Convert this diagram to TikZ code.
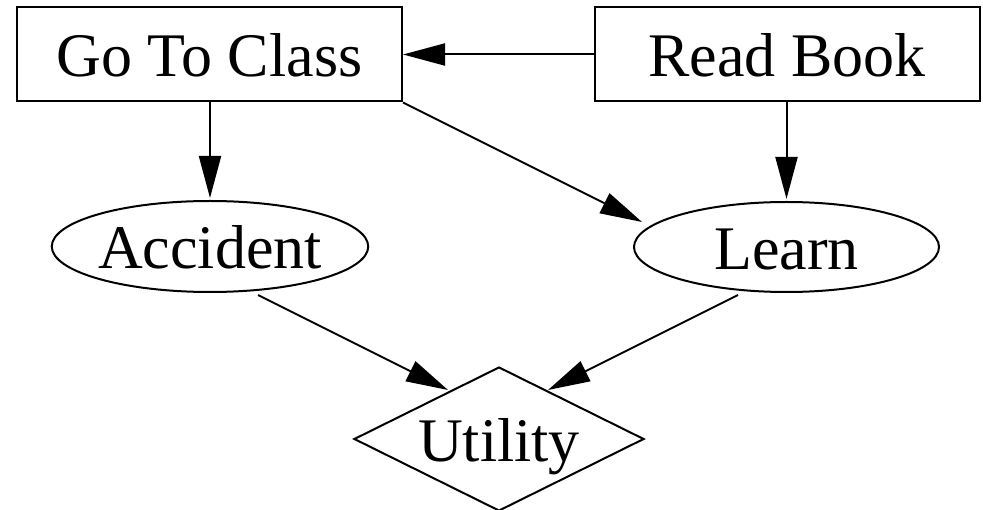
\documentclass[tikz,border=0pt]{standalone}
\usepackage{fontspec}
\setmainfont{Liberation Serif}
\usetikzlibrary{shapes.geometric,arrows.meta}
\tikzset{
  lbl/.style={font=\fontsize{62}{70}\selectfont, inner sep=0pt, line width=2pt, draw=black, text height=45pt, text depth=0pt},
  boxnode/.style={lbl, rectangle, minimum width=385pt, minimum height=94pt},
  ellnode/.style={lbl, ellipse, minimum width=306pt, minimum height=91pt},
  dianode/.style={lbl, diamond, aspect=2, minimum width=290pt, minimum height=144pt},
  arr/.style={line width=2pt, -{Triangle[length=42pt,width=22pt]}}
}
\begin{document}
\begin{tikzpicture}[x=1pt,y=-1pt]
\useasboundingbox (0,0) rectangle (983,510);
\node[boxnode] (gtc) at (209.5,54.5) {Go To Class};
\node[boxnode] (rb) at (787,54.5) {Read Book};
\node[ellnode] (acc) at (210,246.5) {Accident};
\node[ellnode, minimum width=305pt, minimum height=90pt] (learn) at (786.5,247) {Learn};
\node[dianode] (util) at (499,439) {Utility};
\draw[arr] (rb.west) -- (gtc.east);
\draw[arr] (acc.north |- gtc.south) -- ([yshift=2pt]acc.north);
\draw[arr] (gtc.south east) -- ([shift={(-144.5,-25)}]learn.center);
\draw[arr] (learn.north |- rb.south) -- ([yshift=2pt]learn.north);
\draw[arr] ([shift={(48,48.5)}]acc.center) -- ([shift={(-51,-49)}]util.center);
\draw[arr] ([shift={(-48.5,48)}]learn.center) -- ([shift={(49,-49)}]util.center);
\end{tikzpicture}
\end{document}
